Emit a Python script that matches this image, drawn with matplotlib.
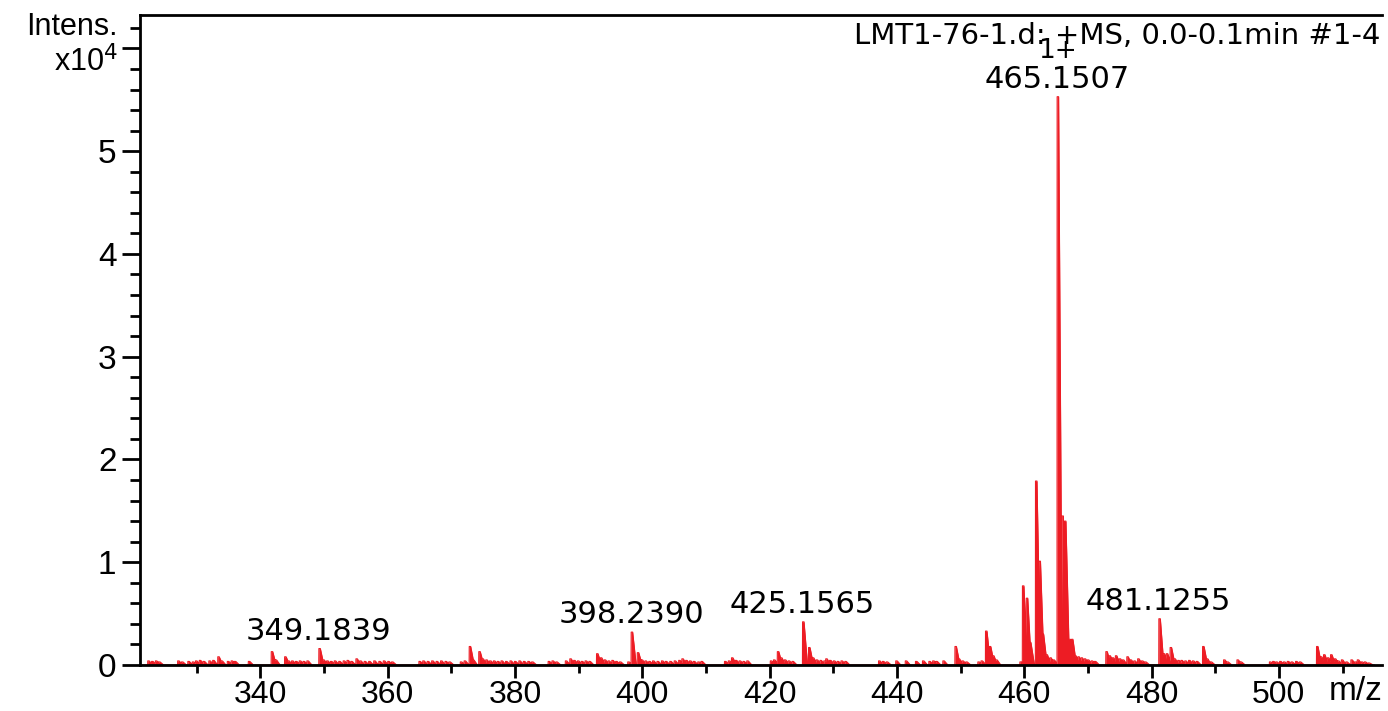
import numpy as np
import matplotlib
matplotlib.use('Agg')
import matplotlib.pyplot as plt
from matplotlib.ticker import MultipleLocator, FixedLocator

# peak list: m/z and intensity (counts)
mz = [322.3, 322.9, 323.5, 324.0, 327.0, 327.6, 328.6, 329.3, 329.8, 330.4, 331.0,
      331.9, 332.5, 333.3, 333.8, 334.8, 335.4, 335.9, 338.1,
      341.7, 342.3, 343.8, 344.3, 344.9, 345.5, 346.1, 346.7, 347.3,
      349.18, 349.8, 350.4, 351.0, 351.6, 352.3, 353.0, 353.6, 354.2, 355.0, 355.6,
      356.3, 357.0, 357.8, 358.6, 359.3, 360.0, 360.6,
      364.9, 365.5, 366.2, 366.9, 367.6, 368.3, 369.0, 369.6, 371.4, 372.0,
      372.8, 373.3, 374.3, 374.8, 375.4, 376.0, 376.6, 377.2, 377.8, 378.5, 379.2,
      379.9, 380.6, 381.3, 382.0, 382.6,
      385.2, 385.8, 386.4, 387.9, 388.6, 389.2, 389.8, 390.4, 391.0, 391.6,
      392.8, 393.4, 394.0, 394.6, 395.2, 395.8, 396.4, 397.7,
      398.24, 399.2, 399.8, 400.4, 401.0, 401.6, 402.3, 403.0, 403.6, 404.3, 405.0,
      405.7, 406.2, 406.8, 407.4, 408.0, 408.7, 409.2,
      412.9, 413.5, 414.0, 414.6, 415.2, 415.8, 416.4,
      420.1, 420.6, 421.2, 421.7, 422.3, 422.9, 423.5,
      425.16, 426.1, 426.7, 427.3, 427.9, 428.5, 428.8, 429.4, 430.0, 430.6, 431.2, 431.8,
      437.1, 437.7, 438.3, 439.8, 441.3, 442.9, 444.0, 445.0, 445.6, 446.1, 447.2,
      449.1, 449.6, 450.2, 450.8,
      452.7, 453.2, 453.9, 454.5, 455.0, 455.5,
      459.3, 459.7, 460.3, 460.8, 461.75, 462.3, 462.8, 463.4, 464.0, 464.5,
      465.15, 465.9, 466.3, 467.0, 467.4, 467.9, 468.4, 468.9, 469.4, 469.9, 470.5, 471.0,
      472.8, 473.3, 473.8, 474.3, 474.9, 475.4, 476.1, 476.6, 477.2, 477.8, 478.4, 478.9,
      481.13, 481.8, 482.3, 482.9, 483.5, 484.1, 484.6, 485.2, 485.8, 486.4, 487.0,
      488.0, 488.6, 489.2, 491.3, 491.8, 493.4, 493.9,
      498.5, 499.0, 499.5, 500.1, 500.7, 501.3, 501.9, 502.6, 503.2,
      505.9, 506.5, 507.0, 507.6, 508.1, 508.7, 509.2, 509.8, 510.5, 511.3, 511.9,
      512.3, 512.9, 513.4, 514.0]
inten = [400, 350, 400, 300, 400, 300, 350, 300, 400, 450, 350,
         400, 450, 800, 400, 350, 400, 350, 350,
         1300, 500, 800, 400, 400, 350, 400, 350, 400,
         1600, 500, 400, 350, 400, 350, 400, 450, 350, 600, 400,
         350, 350, 400, 350, 400, 350, 300,
         350, 400, 350, 400, 350, 400, 350, 300, 300, 400,
         1800, 500, 1300, 600, 500, 400, 400, 350, 400, 350, 400,
         350, 400, 350, 350, 300,
         350, 400, 300, 400, 600, 450, 400, 350, 400, 350,
         1100, 700, 500, 400, 450, 350, 300, 300,
         3200, 1200, 500, 400, 350, 400, 350, 400, 350, 350, 400,
         450, 600, 450, 400, 350, 300, 350,
         350, 400, 700, 450, 400, 350, 400,
         400, 500, 1300, 700, 500, 400, 350,
         4200, 1700, 700, 500, 450, 400, 600, 450, 400, 350, 400, 350,
         400, 350, 300, 400, 400, 350, 400, 350, 400, 350, 400,
         1800, 600, 400, 300,
         300, 400, 3300, 1800, 900, 500,
         300, 7700, 6500, 2200, 17900, 10100, 3000, 1000, 700, 500,
         55300, 14500, 14000, 2500, 2500, 900, 800, 700, 600, 500, 400, 350,
         1300, 900, 700, 900, 600, 500, 800, 500, 400, 600, 400, 300,
         4500, 1100, 1100, 1700, 600, 450, 450, 400, 450, 400, 350,
         1800, 600, 300, 500, 300, 500, 300,
         300, 350, 300, 350, 300, 350, 300, 350, 300,
         1800, 800, 1000, 700, 1000, 600, 400, 500, 300, 500, 300,
         500, 300, 300, 200]

labels = [(349.18, 1600, '349.1839'), (398.24, 3200, '398.2390'),
          (425.16, 4200, '425.1565'), (481.13, 4500, '481.1255')]
base_mz, base_int = 465.15, 55300

red = '#ed1c24'

# profile: each peak rises sharply, holds briefly, then tails off
x = np.arange(321.5, 515.0, 0.01)
y = np.zeros_like(x)
for m, h in zip(mz, inten):
    top = 0.25
    tail = 0.55
    p = np.where((x >= m) & (x < m + top), h, 0.0)
    k = (x >= m + top) & (x < m + top + tail)
    p[k] = h * (1 - (x[k] - m - top) / tail)
    y = np.maximum(y, p)
y = y / 1e4

fig = plt.figure(figsize=(13.88, 7.11), dpi=100)
ax = fig.add_axes([140/1388, 46/711, 1242/1388, 650/711])
ax.fill_between(x, 0, y, color=red, lw=0)
ax.plot(x, y, color=red, lw=0.8)

ax.set_xlim(321.1, 516.2)
ax.set_ylim(0, 6.325)

ax.spines['right'].set_visible(False)
for s in ['left', 'bottom', 'top']:
    ax.spines[s].set_linewidth(2)

ax.xaxis.set_major_locator(FixedLocator([340, 360, 380, 400, 420, 440, 460, 480, 500]))
ax.xaxis.set_minor_locator(FixedLocator([330, 350, 370, 390, 410, 430, 450, 470, 490, 510]))
ax.yaxis.set_major_locator(FixedLocator([0, 1, 2, 3, 4, 5, 6]))
ax.yaxis.set_minor_locator(MultipleLocator(0.2))
ax.set_yticklabels(['0', '1', '2', '3', '4', '5', ''])
ax.tick_params(axis='x', which='major', length=9.5, width=2, pad=1,
               labelsize=23, labelfontfamily='Liberation Sans')
ax.tick_params(axis='x', which='minor', length=5.5, width=2)
ax.tick_params(axis='y', which='major', length=13, width=2, pad=4,
               labelsize=24, labelfontfamily='Liberation Sans')
ax.tick_params(axis='y', which='minor', length=7.5, width=2)

lf = dict(family='DejaVu Sans', fontsize=22, ha='center', va='baseline')
for m, h, t in labels:
    ax.annotate(t, (m, h/1e4), xytext=(0, 6.5), textcoords='offset points', **lf)
ax.annotate('465.1507', (base_mz, base_int/1e4), xytext=(0, 6.5), textcoords='offset points', **lf)
ax.annotate('1+', (base_mz, base_int/1e4), xytext=(0, 28), textcoords='offset points',
            family='DejaVu Sans', fontsize=19, ha='center', va='baseline')

fig.text(1380/1388, 1 - 36/711, 'LMT1-76-1.d: +MS, 0.0-0.1min #1-4', family='DejaVu Sans',
         fontsize=21, ha='right', va='center')
fig.text(118/1388, 1 - 27/711, 'Intens.', family='Liberation Sans', fontsize=22,
         ha='right', va='center')
fig.text(118/1388, 1 - 62/711, r'x10$^4$', family='Liberation Sans', fontsize=22,
         ha='right', va='center')
fig.text(1382/1388, 1 - 692/711, 'm/z', family='Liberation Sans', fontsize=24,
         ha='right', va='center')

fig.savefig('out.png', dpi=100)
